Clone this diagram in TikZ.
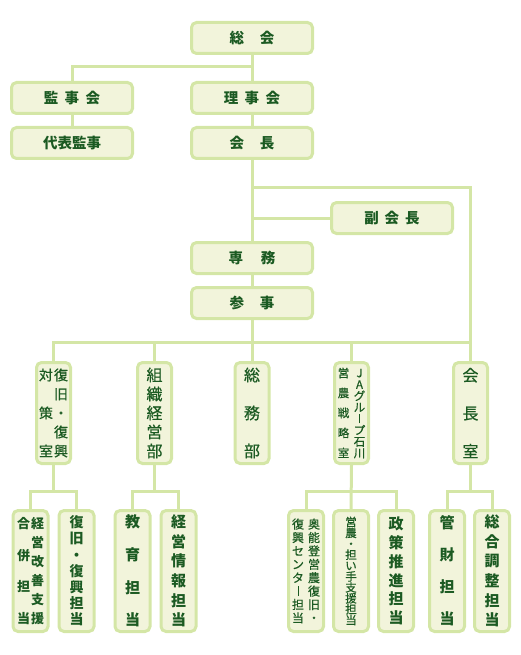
\documentclass[tikz,border=0pt]{standalone}
\usepackage{fontspec}
\newfontfamily\jp{Noto Sans CJK JP}
\newfontfamily\jpm{Noto Sans CJK JP}[FakeBold=0.6]
\definecolor{bd}{HTML}{D4E6A6}
\definecolor{fl}{HTML}{F2F4DB}
\definecolor{tx}{HTML}{1B5A22}
\pgfdeclarelayer{bg}
\pgfsetlayers{bg,main}
\makeatletter
\newcommand\vstack[2]{\vbox{\baselineskip=#1\relax\lineskiplimit=-\maxdimen\lineskip=0pt\relax
  \@tfor\vch:=#2\do{\hbox to 0pt{\hss\vch\hss}}}}
\makeatother
\newcommand\twocol[5]{\hbox{\vstack{#1}{#2}\kern#5\relax\vstack{#3}{#4}}}
\newcommand\vbar{\rule[-0.03em]{0.08em}{0.8em}}
\tikzset{
  box/.style={draw=bd, fill=fl, line width=3pt, rounded corners=5pt, inner sep=0pt, text=tx},
  tbox/.style={box, minimum width=121pt, minimum height=31pt, font=\jp\bfseries\fontsize{14.5}{16}\selectfont},
  cbox/.style={box, minimum width=34pt, minimum height=101pt},
  lbox/.style={box, minimum width=35pt, minimum height=121pt},
  fs/.style={font=\jpm\fontsize{#1}{#1}\selectfont},
  bfs/.style={font=\jp\bfseries\fontsize{#1}{#1}\selectfont},
  link/.style={draw=bd, line width=3pt},
}
\begin{document}
\begin{tikzpicture}[x=1pt,y=-1pt]
\useasboundingbox (0,0) rectangle (520,655);
% top levels
\node[tbox] (sokai) at (252,38) {総\hspace{16pt}会};
\node[tbox] (kansakai) at (72,98) {監\hspace{6.5pt}事\hspace{6.5pt}会};
\node[tbox] (rijikai) at (252,98) {理\hspace{6.5pt}事\hspace{6.5pt}会};
\node[tbox] (daihyo) at (72,143) {代表監事};
\node[tbox] (kaicho) at (252,143) {会\hspace{16pt}長};
\node[tbox] (fuku) at (392,218) {副\hspace{6pt}会\hspace{6pt}長};
\node[tbox] (senmu) at (252,258) {専\hspace{18pt}務};
\node[tbox] (sanji) at (252,303) {参\hspace{16pt}事};
% third level
\node[cbox, fs=14] (taisaku) at (53.5,413) {\twocol{38pt}{対策室}{19pt}{復旧・復興}{15pt}};
\node[cbox, fs=16] (soshiki) at (154.5,413) {\vstack{19pt}{組織経営部}};
\node[cbox, fs=16] (somu) at (252,413) {\vstack{38pt}{総務部}};
\node[cbox, fs=11.5] (ja) at (351.5,413) {\twocol{20pt}{営農戦略室}{11.43pt}{JAグル\vbar プ石川}{16pt}};
\node[cbox, fs=16] (kaichoshitsu) at (470.5,413) {\vstack{38pt}{会長室}};
% fourth level
\node[lbox, bfs=13] (gappei) at (30.5,571) {\twocol{31.67pt}{合併担当}{19pt}{経営改善支援}{14pt}};
\node[lbox, bfs=14] (fukkyu) at (76.5,571) {\vstack{16.2pt}{復旧・復興担当}};
\node[lbox, bfs=15] (kyoiku) at (132.5,571) {\vstack{32.7pt}{教育担当}};
\node[lbox, bfs=15] (keiei) at (178.5,571) {\vstack{19.6pt}{経営情報担当}};
\node[lbox, fs=12] (okunoto) at (306,571) {\twocol{13.4pt}{復興センタ\vbar 担当}{13.4pt}{奥能登営農復旧・}{16pt}};
\node[lbox, fs=11.5] (einou) at (351,571) {\vstack{10.9pt}{営農・担い手支援担当}};
\node[lbox, bfs=15] (seisaku) at (396,571) {\vstack{18.8pt}{政策推進担当}};
\node[lbox, bfs=15] (kanzai) at (447,571) {\vstack{32pt}{管財担当}};
\node[lbox, bfs=15] (sogo) at (492,571) {\vstack{19.6pt}{総合調整担当}};
\begin{pgfonlayer}{bg}
\coordinate (j1) at (252,67);
\coordinate (j2) at (252,187);
\coordinate (j3) at (252,342);
\draw[link] (sokai.south) -- (rijikai.north);
\draw[link] (kansakai.north) |- (j1);
\draw[link] (kansakai.south) -- (daihyo.north);
\draw[link] (rijikai.south) -- (kaicho.north);
\draw[link] (kaicho.south) -- (senmu.north);
\draw[link] (j2) -| (kaichoshitsu.north);
\draw[link] (fuku.west) -- (fuku.west -| kaicho.south);
\draw[link] (senmu.south) -- (sanji.north);
\draw[link] (sanji.south) -- (somu.north);
\draw[link] (taisaku.north) |- (kaichoshitsu.north |- j3);
\draw[link] (soshiki.north) -- (soshiki.north |- j3);
\draw[link] (ja.north) -- (ja.north |- j3);
\draw[link] (taisaku.south) -- (taisaku.south |- 0,491);
\draw[link] (gappei.north) |- (fukkyu.north |- 0,491) -- (fukkyu.north);
\draw[link] (soshiki.south) -- (soshiki.south |- 0,491);
\draw[link] (kyoiku.north) |- (keiei.north |- 0,491) -- (keiei.north);
\draw[link] (ja.south) -- (einou.north);
\draw[link] (okunoto.north) |- (seisaku.north |- 0,491) -- (seisaku.north);
\draw[link] (kaichoshitsu.south) -- (kaichoshitsu.south |- 0,491);
\draw[link] (kanzai.north) |- (sogo.north |- 0,491) -- (sogo.north);
\end{pgfonlayer}
\end{tikzpicture}
\end{document}
